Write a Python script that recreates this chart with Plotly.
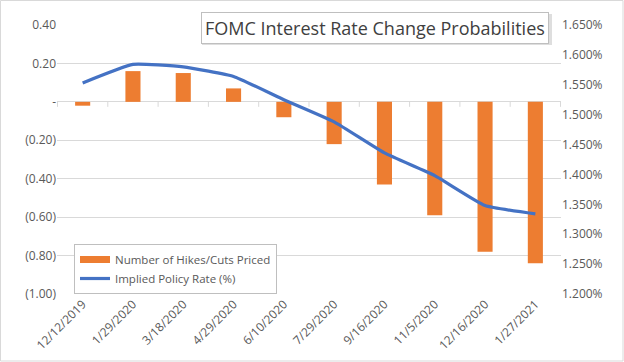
import plotly.graph_objects as go

dates = ["12/12/2019", "1/29/2020", "3/18/2020", "4/29/2020", "6/10/2020",
         "7/29/2020", "9/16/2020", "11/5/2020", "12/16/2020", "1/27/2021"]
hikes_cuts = [-0.02, 0.16, 0.15, 0.07, -0.08, -0.22, -0.43, -0.59, -0.78, -0.84]
policy_rate = [1.553, 1.584, 1.580, 1.564, 1.525, 1.488, 1.436, 1.398, 1.348, 1.334]

left_vals = [0.4, 0.2, 0.0, -0.2, -0.4, -0.6, -0.8, -1.0]
left_text = ["0.40", "0.20", "-", "(0.20)", "(0.40)", "(0.60)", "(0.80)", "(1.00)"]
right_vals = [1.20, 1.25, 1.30, 1.35, 1.40, 1.45, 1.50, 1.55, 1.60, 1.65]
right_text = ["1.200%", "1.250%", "1.300%", "1.350%", "1.400%", "1.450%",
              "1.500%", "1.550%", "1.600%", "1.650%"]

W, H = 624, 362
L, R, T, B = 57, 63, 25, 68
pw, ph = W - L - R, H - T - B

def px_x(x):
    return (x - L) / pw

def px_y(y):
    return (H - B - y) / ph

font_fam = "Open Sans, Noto Sans, sans-serif"
tick_col = "#595959"
bar_col = "#ED7D31"
line_col = "#4472C4"

fig = go.Figure()
fig.add_trace(go.Bar(
    x=dates, y=hikes_cuts, name="Number of Hikes/Cuts Priced", showlegend=False,
    marker=dict(color=bar_col, line=dict(width=0)), width=0.3, yaxis="y"))
fig.add_trace(go.Scatter(
    x=[None], y=[None], name="Number of Hikes/Cuts Priced", mode="lines",
    line=dict(color=bar_col, width=7), yaxis="y"))
fig.add_trace(go.Scatter(
    x=dates, y=policy_rate, name="Implied Policy Rate (%)", mode="lines",
    line=dict(color=line_col, width=3.2, shape="spline", smoothing=0.4), yaxis="y2"))

shapes = []
for i in range(len(dates) + 1):
    shapes.append(dict(type="line", xref="x", yref="y", x0=i - 0.5, x1=i - 0.5,
                       y0=0, y1=-0.026, line=dict(color="#D9D9D9", width=1)))
shapes.append(dict(type="rect", xref="paper", yref="paper",
                   x0=px_x(0.5), x1=px_x(623), y0=px_y(361), y1=px_y(0.5),
                   line=dict(color="#D9D9D9", width=1), fillcolor="rgba(0,0,0,0)"))
shapes.append(dict(type="rect", xref="paper", yref="paper", layer="above",
                   x0=px_x(202), x1=px_x(552), y0=px_y(45), y1=px_y(14),
                   line=dict(width=0), fillcolor="rgba(160,160,160,0.35)"))

fig.update_layout(
    width=W, height=H,
    margin=dict(l=L, r=R, t=T, b=B, autoexpand=False),
    paper_bgcolor="white", plot_bgcolor="white",
    font=dict(family=font_fam, size=12, color=tick_col),
    showlegend=True,
    legend=dict(x=px_x(74), y=px_y(244), xanchor="left", yanchor="top",
                bgcolor="white", bordercolor="#BFBFBF", borderwidth=1,
                font=dict(size=11.5, color=tick_col), tracegroupgap=0,
                itemwidth=30),
    xaxis=dict(type="category", showgrid=False, ticks="", tickangle=-45,
               showline=False, automargin=False,
               tickfont=dict(size=12, color=tick_col)),
    yaxis=dict(range=[-1.0, 0.4], tickvals=left_vals, ticktext=left_text,
               showgrid=True, gridcolor="#D9D9D9", gridwidth=1, automargin=False,
               zeroline=True, zerolinecolor="#D9D9D9", zerolinewidth=1,
               ticks="", showline=False, tickfont=dict(size=12, color=tick_col)),
    yaxis2=dict(range=[1.2, 1.65], tickvals=right_vals, ticktext=right_text,
                overlaying="y", side="right", showgrid=False, zeroline=False,
                automargin=False, ticks="", showline=False,
                tickfont=dict(size=12, color=tick_col)),
    shapes=shapes,
    annotations=[dict(
        text="FOMC Interest Rate Change Probabilities", xref="paper", yref="paper",
        x=px_x(375), y=px_y(28), xanchor="center", yanchor="middle", showarrow=False,
        font=dict(family=font_fam, size=18, color="#404040"),
        bgcolor="white", bordercolor="#BFBFBF", borderwidth=1, borderpad=3)],
)

fig.write_html("out.html", config={"displayModeBar": False},
               post_script="document.body.style.margin='0';document.body.style.overflow='hidden';")
